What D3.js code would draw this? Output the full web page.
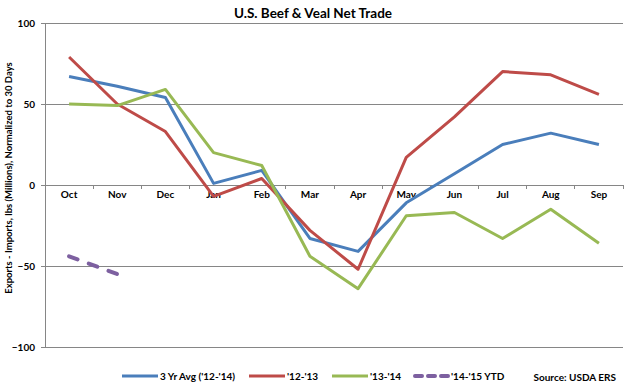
<!DOCTYPE html>
<html>
<head>
<meta charset="utf-8">
<script src="https://cdn.jsdelivr.net/npm/d3@7"></script>
<style>
  body { margin: 0; background: #fff; }
  text { font-family: Lato, "Open Sans", sans-serif; }
</style>
</head>
<body>
<div id="chart"></div>
<script>
let months = ['Oct', 'Nov', 'Dec', 'Jan', 'Feb', 'Mar', 'Apr', 'May', 'Jun', 'Jul', 'Aug', 'Sep'];
let avg3yr = [67, 61, 54, 1, 9, -33, -41, -11, 7, 25, 32, 25];
let y1213 = [79, 50, 33, -7, 4, -28, -52, 17, 42, 70, 68, 56];
let y1314 = [50, 49, 59, 20, 12, -44, -64, -19, -17, -33, -15, -36];
let y1415 = [-44, -55];
let yTicks = [100, 50, 0, -50, -100];

let seriesList = [
    { name: "3 Yr Avg ('12-'14)", values: avg3yr, color: '#4A7EBB', dash: null },
    { name: "'12-'13", values: y1213, color: '#BE4B48', dash: null },
    { name: "'13-'14", values: y1314, color: '#98B954', dash: null },
    { name: "'14-'15 YTD", values: y1415, color: '#7D60A0', dash: '9,12' }
];

const width = 628, height = 388;
const plotLeft = 45, plotRight = 623, plotTop = 23, plotBottom = 347;

let svg = d3.select('#chart').append('svg')
    .attr('width', width)
    .attr('height', height);

let x = d3.scaleBand().domain(months).range([plotLeft, plotRight]);
let y = d3.scaleLinear().domain([-100, 100]).range([plotBottom, plotTop]);

// gridlines
svg.append('g')
    .selectAll('line')
    .data(yTicks)
    .enter()
    .append('line')
    .attr('x1', plotLeft).attr('x2', plotRight)
    .attr('y1', d => y(d)).attr('y2', d => y(d))
    .attr('stroke', '#868686')
    .attr('stroke-width', 1)
    .attr('shape-rendering', 'crispEdges');

// y axis
let yAxis = svg.append('g')
    .attr('transform', `translate(${plotLeft},0)`)
    .call(d3.axisLeft(y).tickValues(yTicks).tickSize(4).tickPadding(6));
yAxis.select('.domain').attr('stroke', '#868686').attr('shape-rendering', 'crispEdges');
yAxis.selectAll('.tick line').attr('stroke', '#868686');
yAxis.selectAll('text').attr('font-size', 10).attr('font-weight', 'bold').attr('fill', '#000');

// x axis at zero
let xAxis = svg.append('g')
    .attr('transform', `translate(0,${y(0)})`)
    .call(d3.axisBottom(x).tickSize(0).tickPadding(6));
xAxis.select('.domain').remove();
xAxis.selectAll('text').attr('font-size', 10).attr('font-weight', 'bold').attr('fill', '#000');

// category separator ticks
svg.append('g')
    .selectAll('line')
    .data(months)
    .enter()
    .append('line')
    .attr('x1', d => x(d) + x.step())
    .attr('x2', d => x(d) + x.step())
    .attr('y1', y(0)).attr('y2', y(0) + 4)
    .attr('stroke', '#868686')
    .attr('shape-rendering', 'crispEdges');

let line = d3.line()
    .x((d, i) => x(months[i]) + x.bandwidth() / 2)
    .y(d => y(d));

seriesList.forEach(s => {
    svg.append('path')
        .datum(s.values)
        .attr('fill', 'none')
        .attr('stroke', s.color)
        .attr('stroke-width', s.dash ? 4 : 3)
        .attr('stroke-dasharray', s.dash)
        .attr('stroke-linecap', s.dash ? 'round' : 'butt')
        .attr('stroke-linejoin', 'round')
        .attr('d', line);
});

// title
svg.append('text')
    .attr('x', 313).attr('y', 18)
    .attr('text-anchor', 'middle')
    .attr('font-size', 13.5)
    .attr('font-weight', 'bold')
    .text('U.S. Beef & Veal Net Trade');

// y label
svg.append('text')
    .attr('transform', `translate(12,178) rotate(-90)`)
    .attr('text-anchor', 'middle')
    .attr('font-size', 9.5)
    .attr('font-weight', 'bold')
    .text('Exports - Imports, lbs (Millions), Normalized to 30 Days');

// legend
let legendX = [122, 249, 332, 413];
let legend = svg.append('g');
seriesList.forEach((s, i) => {
    legend.append('line')
        .attr('x1', legendX[i] + (s.dash ? 2 : 0)).attr('x2', legendX[i] + 36)
        .attr('y1', 376).attr('y2', 376)
        .attr('stroke', s.color)
        .attr('stroke-width', s.dash ? 4 : 3)
        .attr('stroke-linecap', s.dash ? 'round' : 'butt')
        .attr('stroke-dasharray', s.dash ? '7,6' : null);
    legend.append('text')
        .attr('x', legendX[i] + 38).attr('y', 380)
        .attr('font-size', 10)
        .attr('font-weight', 'bold')
        .text(s.name);
});

svg.append('text')
    .attr('x', 616).attr('y', 381)
    .attr('text-anchor', 'end')
    .attr('font-size', 10)
    .attr('font-weight', 'bold')
    .text('Source: USDA ERS');
</script>
</body>
</html>
